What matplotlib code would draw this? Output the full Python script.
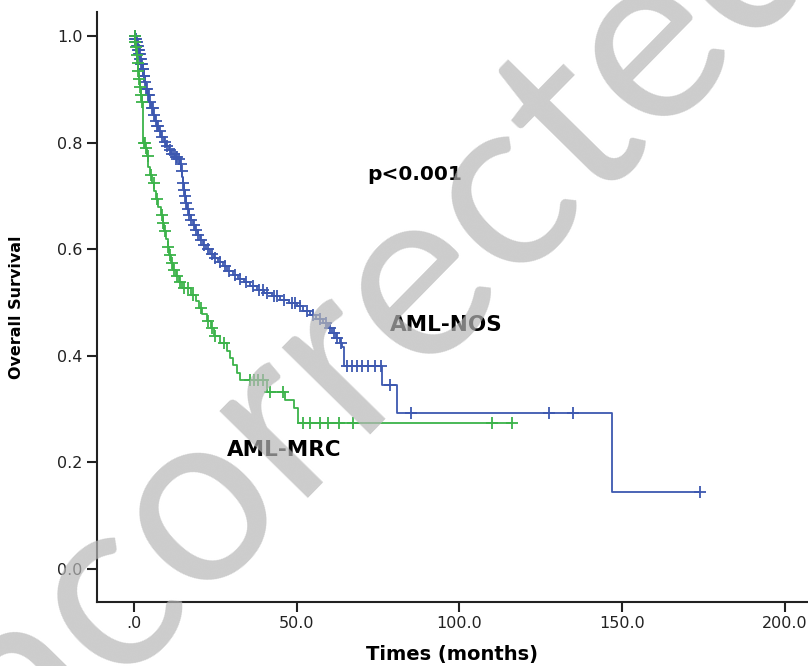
import numpy as np
import matplotlib
matplotlib.use("Agg")
import matplotlib.pyplot as plt

# Kaplan-Meier estimates: event times (months) and survival after each step
nos_times = [0.0, 0.3, 0.6, 0.9, 1.2, 1.5, 1.8, 2.1, 2.5, 2.9, 3.3, 3.7, 4.1, 4.6,
             5.2, 5.8, 6.4, 7.0, 7.7, 8.4, 9.1, 9.8, 10.6, 11.5, 12.5, 13.6, 14.2,
             14.5, 14.8, 15.0, 15.3, 15.6, 15.9, 16.3, 16.8, 17.4, 18.0, 18.7, 19.5,
             20.3, 21.2, 22.2, 23.3, 24.5, 25.8, 27.2, 28.7, 30.3, 32.0, 33.8, 35.7,
             37.7, 40.0, 42.5, 45.0, 47.5, 50.0, 52.0, 54.0, 56.0, 58.0, 59.5, 60.8,
             62.0, 63.2, 64.0, 64.6, 76.3, 80.7, 147.0]
nos_surv = [1.0, 0.995, 0.99, 0.982, 0.975, 0.967, 0.958, 0.948, 0.938, 0.926, 0.914,
            0.902, 0.89, 0.877, 0.865, 0.853, 0.842, 0.832, 0.822, 0.812, 0.802, 0.794,
            0.786, 0.779, 0.774, 0.770, 0.760, 0.748, 0.736, 0.724, 0.712, 0.700, 0.688,
            0.676, 0.665, 0.655, 0.645, 0.636, 0.627, 0.618, 0.609, 0.600, 0.592, 0.584,
            0.576, 0.568, 0.560, 0.552, 0.545, 0.538, 0.531, 0.524, 0.518, 0.512, 0.506,
            0.500, 0.493, 0.485, 0.477, 0.469, 0.461, 0.452, 0.443, 0.434, 0.425, 0.417,
            0.381, 0.345, 0.293, 0.145]
nos_censored = [0.2, 0.4, 0.5, 0.7, 0.8, 1.0, 1.1, 1.3, 1.4, 1.6, 1.7, 1.9, 2.0, 2.2,
                2.4, 2.6, 2.8, 3.0, 3.2, 3.5, 3.8, 4.0, 4.3, 4.5, 4.9, 5.4, 5.7, 6.1,
                6.6, 7.2, 7.5, 8.0, 8.7, 9.4, 10.2, 11.0, 11.8, 12.3, 12.9, 13.3, 13.9,
                14.3, 14.7, 15.1, 15.5, 15.8, 16.1, 16.5, 17.0, 17.6, 18.3, 19.0, 19.8,
                20.7, 21.6, 22.6, 23.8, 25.0, 26.3, 27.8, 29.3, 31.0, 32.7, 34.5, 36.5,
                38.5, 39.5, 41.0, 43.0, 44.0, 46.0, 48.5, 49.5, 51.0, 53.0, 55.0, 57.0,
                59.0, 60.2, 61.5, 62.5, 63.5, 65.5, 67.0, 68.5, 70.0, 72.0, 74.0, 76.0,
                78.6, 85.0, 127.5, 135.0, 174.0]

mrc_times = [0.0, 0.3, 0.5, 0.8, 1.0, 1.2, 1.5, 1.8, 2.1, 2.4, 2.8, 3.5, 4.0, 4.4,
             5.0, 5.6, 6.2, 6.8, 7.5, 8.2, 8.8, 9.3, 9.8, 10.3, 10.8, 11.3, 12.0,
             12.8, 13.7, 14.8, 17.5, 19.0, 20.0, 21.0, 22.3, 23.5, 24.5, 26.5, 28.5,
             29.5, 30.5, 31.6, 32.5, 40.8, 46.4, 49.0, 50.5]
mrc_surv = [1.0, 0.99, 0.98, 0.965, 0.95, 0.935, 0.92, 0.905, 0.89, 0.877, 0.80, 0.79,
            0.775, 0.755, 0.74, 0.725, 0.71, 0.695, 0.68, 0.665, 0.65, 0.635, 0.62,
            0.605, 0.59, 0.575, 0.562, 0.55, 0.538, 0.527, 0.515, 0.503, 0.49, 0.478,
            0.466, 0.452, 0.438, 0.424, 0.41, 0.397, 0.383, 0.368, 0.355, 0.332, 0.317,
            0.302, 0.274]
mrc_censored = [0.2, 0.4, 0.6, 0.9, 1.1, 1.3, 1.6, 1.9, 2.2, 2.5, 3.0, 3.3, 3.7, 4.2,
                5.3, 6.0, 7.1, 8.5, 9.0, 9.6, 10.5, 11.0, 11.6, 12.4, 13.2, 14.2, 15.5,
                16.5, 18.0, 20.5, 22.8, 24.0, 25.0, 27.5, 35.6, 36.8, 38.0, 39.6, 41.8,
                45.8, 52.0, 54.0, 57.0, 59.6, 63.0, 67.4, 110.0, 116.0]

groups = ["AML-NOS", "AML-MRC"]
colors = {"AML-NOS": "#3d58b0", "AML-MRC": "#3cb34a"}
x_ticks = [0, 50, 100, 150, 200]
x_tick_labels = [".0", "50.0", "100.0", "150.0", "200.0"]
y_ticks = [0.0, 0.2, 0.4, 0.6, 0.8, 1.0]
y_tick_labels = ["0.0", "0.2", "0.4", "0.6", "0.8", "1.0"]

fig = plt.figure(figsize=(8.08, 6.66), dpi=100)
ax = fig.add_axes([0.12, 0.0961, 0.88, 0.886])


def draw_km(ax, times, surv, censored, color):
    times = np.asarray(times)
    surv = np.asarray(surv)
    cens = np.asarray(censored)
    t_end = max(times.max(), cens.max())
    xs = np.append(times, t_end)
    ys = np.append(surv, surv[-1])
    ax.step(xs, ys, where="post", color=color, lw=1.3, zorder=3)
    idx = np.searchsorted(times, cens, side="right") - 1
    ax.plot(cens, surv[idx], linestyle="none", marker="+", ms=9, mew=1.3,
            color=color, zorder=3)


draw_km(ax, nos_times, nos_surv, nos_censored, colors["AML-NOS"])
draw_km(ax, mrc_times, mrc_surv, mrc_censored, colors["AML-MRC"])

ax.set_xlim(-11.4, 207.1)
ax.set_ylim(-0.062, 1.046)
for side in ("top", "right"):
    ax.spines[side].set_visible(False)
for side in ("left", "bottom"):
    ax.spines[side].set_linewidth(1.5)
    ax.spines[side].set_color("#222222")

ax.set_xticks(x_ticks)
ax.set_xticklabels(x_tick_labels)
ax.set_yticks(y_ticks)
ax.set_yticklabels(y_tick_labels)
ax.tick_params(axis="both", length=7, width=1.5, color="#222222",
               labelsize=11.5, labelcolor="#222222")
ax.tick_params(axis="x", pad=3)

ax.set_xlabel("Times (months)", fontsize=14, fontweight="bold", labelpad=10)
ax.set_ylabel("Overall Survival", fontsize=11.5, fontweight="bold", labelpad=24)

ax.text(86.3, 0.74, "p<0.001", fontsize=14.5, fontweight="bold",
        ha="center", va="center")
ax.text(96.0, 0.458, "AML-NOS", fontsize=15.5, fontweight="bold",
        ha="center", va="center")
ax.text(46.0, 0.223, "AML-MRC", fontsize=15.5, fontweight="bold",
        ha="center", va="center")

# diagonal watermark across the whole figure
fig.text(0.388, 0.44, "Uncorrected", family="Lato", fontweight="normal",
         fontsize=176, color="#b7b7b7", alpha=0.7, rotation=45.5,
         rotation_mode="anchor", ha="center", va="center", zorder=10)

fig.savefig("out.png", dpi=100)
